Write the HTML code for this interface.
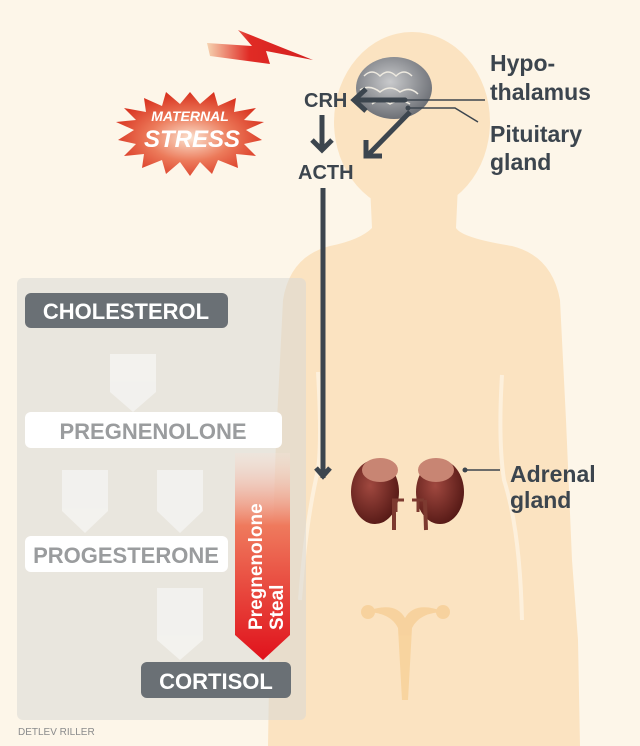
<!DOCTYPE html>
<html><head><meta charset="utf-8"><style>
html,body{margin:0;padding:0;background:#fdf6e9;}
svg{display:block;}
text{font-family:"Liberation Sans",sans-serif;font-weight:bold;}
</style></head><body>
<svg width="640" height="746" viewBox="0 0 640 746" xmlns="http://www.w3.org/2000/svg">
<defs>
<linearGradient id="bolt" x1="0" x2="1" y1="0" y2="0"><stop offset="0" stop-color="#f6d3b0"/><stop offset="0.4" stop-color="#e02b25"/><stop offset="1" stop-color="#d41f1f"/></linearGradient>
<radialGradient id="star" cx="0.5" cy="0.55" r="0.55"><stop offset="0" stop-color="#fbe2cf"/><stop offset="0.5" stop-color="#ec7a5a"/><stop offset="1" stop-color="#d8321f"/></radialGradient>
<linearGradient id="steal" x1="0" x2="0" y1="0" y2="1"><stop offset="0" stop-color="#f6e2d8" stop-opacity="0.3"/><stop offset="0.35" stop-color="#ef7a5d"/><stop offset="1" stop-color="#e0121c"/></linearGradient>
<radialGradient id="kid" cx="0.4" cy="0.4" r="0.7"><stop offset="0" stop-color="#a0483f"/><stop offset="1" stop-color="#4f1512"/></radialGradient>
<radialGradient id="brain" cx="0.45" cy="0.4" r="0.6"><stop offset="0" stop-color="#c9cacc"/><stop offset="1" stop-color="#6d7076"/></radialGradient>
</defs>
<rect width="640" height="746" fill="#fdf6e9"/>
<!-- body -->
<path d="M370 185 L372 228 Q360 240 330 246 Q290 256 283 300 L276 440 L270 620 L268 746 L580 746 L578 640 L572 560 L566 420 L560 300 Q552 256 512 246 Q462 238 456 228 L458 185 Z" fill="#fbe3c1"/>
<ellipse cx="412" cy="122" rx="78" ry="90" fill="#fbe3c1"/>
<path d="M318 372 Q322 440 318 470 Q306 520 300 600" stroke="#fdf0dc" stroke-width="4" fill="none"/>
<path d="M502 375 Q498 440 504 480 Q520 530 522 620" stroke="#fdf0dc" stroke-width="4" fill="none"/>
<!-- uterus -->
<g fill="#f7cf96" opacity="0.8">
<path d="M365 612 Q395 600 405 618 Q415 600 445 612 Q420 612 412 628 L408 700 L402 700 L398 628 Q390 612 365 612Z"/>
<circle cx="368" cy="612" r="7"/><circle cx="443" cy="612" r="7"/>
</g>
<!-- panel -->
<rect x="17" y="278" width="289" height="442" rx="6" fill="#d9d9d6" opacity="0.55"/>
<g fill="#f4f3f0" opacity="0.9">
<path d="M110 354 H156 V392 L133 412 L110 392Z"/>
<path d="M62 470 H108 V511 L85 533 L62 511Z"/>
<path d="M157 470 H203 V511 L180 533 L157 511Z"/>
<path d="M157 588 H203 V640 L180 660 L157 640Z"/>
</g>
<rect x="25" y="293" width="203" height="35" rx="6" fill="#6a7075"/>
<text x="126" y="319" text-anchor="middle" font-size="22" fill="#fff">CHOLESTEROL</text>
<rect x="25" y="412" width="257" height="36" rx="6" fill="#fff"/>
<text x="153" y="439" text-anchor="middle" font-size="22" fill="#9a9c9e">PREGNENOLONE</text>
<rect x="25" y="536" width="203" height="36" rx="6" fill="#fff"/>
<text x="126" y="563" text-anchor="middle" font-size="22" fill="#9a9c9e">PROGESTERONE</text>
<path d="M235 453 H290 V635 L263 660 L235 635Z" fill="url(#steal)"/>
<text transform="translate(262,630) rotate(-90)" font-size="19" fill="#fff">Pregnenolone</text>
<text transform="translate(283,630) rotate(-90)" font-size="19" fill="#fff">Steal</text>
<rect x="141" y="662" width="150" height="36" rx="6" fill="#6a7075"/>
<text x="216" y="689" text-anchor="middle" font-size="22" fill="#fff">CORTISOL</text>
<text x="18" y="735" font-size="10" fill="#8a8b8c" style="font-weight:normal">DETLEV RILLER</text>
<!-- bolt -->
<path d="M207 43 L252 46 L238 30 L313 60 L266 51 L270 64 L210 56Z" fill="url(#bolt)"/>
<!-- starburst -->
<polygon fill="url(#star)" points="190,92 200,104 214,92 218,106 236,98 234,112 256,108 244,120 264,122 246,130 262,140 244,144 256,156 236,154 238,168 218,160 212,174 200,162 190,176 180,162 166,174 162,160 142,168 144,154 124,156 136,144 118,140 134,130 116,122 136,120 124,108 146,112 144,98 162,106 166,92 180,104"/>
<text x="190" y="121" text-anchor="middle" font-size="14" font-style="italic" fill="#fff">MATERNAL</text>
<text x="192" y="147" text-anchor="middle" font-size="24" font-style="italic" fill="#fff">STRESS</text>
<!-- brain -->
<ellipse cx="394" cy="88" rx="38" ry="31" fill="url(#brain)"/>
<path d="M364 76 q8-8 16 0 q8-8 16 0 q8-8 16 0 M360 90 q10-6 20 2 q10-8 20 0 q10-6 18 2 M372 104 q8-6 18 0 q10-6 20 0" stroke="#eeeae0" stroke-width="1.5" fill="none"/>
<!-- arrows -->
<g stroke="#3c454e" stroke-width="5" fill="none">
<path d="M405 100 H355"/><path d="M366 89 L354 100 L366 111"/>
<path d="M322 115 V150"/><path d="M312 140 L322 150 L332 140"/>
<path d="M410 112 L368 155"/><path d="M366 140 L366 156 L382 156"/>
<path d="M323 188 V478"/><path d="M316 468 L323 476 L330 468"/>
</g>
<g stroke="#3c454e" stroke-width="1.5" fill="none">
<path d="M405 100 H485"/><path d="M408 108 H455 L478 122"/><path d="M465 470 H500"/>
</g>
<circle cx="405" cy="100" r="2.5" fill="#3c454e"/><circle cx="408" cy="108" r="2.5" fill="#3c454e"/><circle cx="465" cy="470" r="2.5" fill="#3c454e"/>
<g font-size="20" fill="#3c454e">
<text x="304" y="107">CRH</text>
<text x="298" y="179">ACTH</text>
</g>
<g font-size="23" fill="#3c454e">
<text x="490" y="71">Hypo-</text>
<text x="490" y="100">thalamus</text>
<text x="490" y="142">Pituitary</text>
<text x="490" y="170">gland</text>
<text x="510" y="482">Adrenal</text>
<text x="510" y="508">gland</text>
</g>
<!-- kidneys -->
<ellipse cx="375" cy="492" rx="24" ry="32" fill="url(#kid)"/>
<ellipse cx="440" cy="492" rx="24" ry="32" fill="url(#kid)"/>
<ellipse cx="380" cy="470" rx="18" ry="12" fill="#c88573"/>
<ellipse cx="436" cy="470" rx="18" ry="12" fill="#c88573"/>
<path d="M392 500 H404 M396 500 V512 M412 500 H424 M418 500 V512" stroke="#7d3a30" stroke-width="3"/>
<path d="M394 500 L394 530" stroke="#7d3a30" stroke-width="4" fill="none"/>
<path d="M425 500 L426 530" stroke="#7d3a30" stroke-width="4" fill="none"/>
</svg>
</body></html>
